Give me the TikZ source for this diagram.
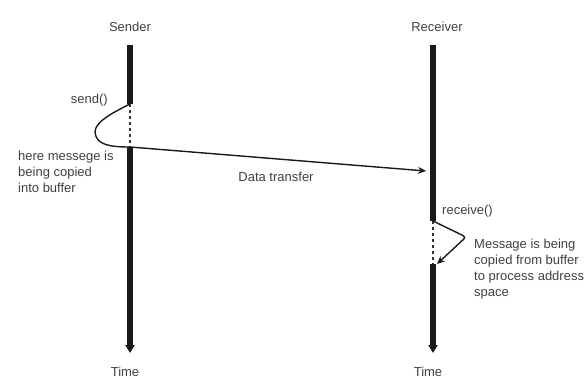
\documentclass[tikz,border=0pt]{standalone}
\usepackage{fontspec}
\setmainfont{Liberation Sans}
\usetikzlibrary{positioning, arrows.meta}

\begin{document}
\begin{tikzpicture}[
    x=1pt, y=-1pt,
    lbl/.style={font=\fontsize{13}{16}\selectfont, text=black!75, inner sep=0pt},
    note/.style={lbl, align=left},
    bar/.style={line width=6.5pt, black!90},
    timebar/.style={bar, -{Triangle[width=9pt, length=8pt]}},
    gap/.style={line width=1.2pt, black!80, dash pattern=on 3pt off 3pt},
    copy/.style={line width=1.4pt, black!90, -{Stealth[length=8pt, width=7pt]}},
]
    \useasboundingbox (0,0) rectangle (584,378);

    % Sender timeline
    \coordinate (s-top) at (130,45);
    \coordinate (s-send) at (130,104);
    \coordinate (s-bend) at (95,132);
    \coordinate (s-out) at (130,147);
    \coordinate (s-end) at (130,353);
    \node[lbl] (sender) at (130,27) {Sender};
    \node[lbl] (s-time) at (125,372) {Time};

    % Receiver timeline
    \coordinate (r-top) at (433,45);
    \coordinate (r-in) at (426,171);
    \coordinate (r-recv) at (433,221);
    \coordinate (r-turn) at (466,237);
    \coordinate (r-back) at (433,264);
    \coordinate (r-end) at (433,353);
    \node[lbl] (receiver) at (437,27) {Receiver};
    \node[lbl] (r-time) at (428,372) {Time};

    % Bars
    \draw[bar] (s-top) -- (s-send);
    \draw[gap] (s-send) -- (s-out);
    \draw[timebar] (s-out) -- (s-end);
    \draw[bar] (r-top) -- (r-recv);
    \draw[gap] (r-recv) -- (r-back);
    \draw[timebar] (r-back) -- (r-end);

    % Copy into buffer, then data transfer
    \draw[copy] (s-send) .. controls (112,113) and (95,122) .. (s-bend)
        .. controls (96,145) and (110,147) .. (s-out) -- (r-in);
    \node[lbl] (transfer) at (276,177) {Data transfer};

    % Copy from buffer
    \draw[copy, rounded corners=3pt] (r-recv) -- (r-turn) -- ([xshift=4pt]r-back);

    % Labels
    \node[lbl, anchor=east] (send) at (108,100) {send()};
    \node[note, anchor=north west] (s-note) at (18,151) {here messege is\\being copied\\into buffer};
    \node[lbl, anchor=west] (recv) at (442,211) {receive()};
    \node[note, anchor=north west] (r-note) at (474,239) {Message is being\\copied from buffer\\to process address\\space};
\end{tikzpicture}
\end{document}
